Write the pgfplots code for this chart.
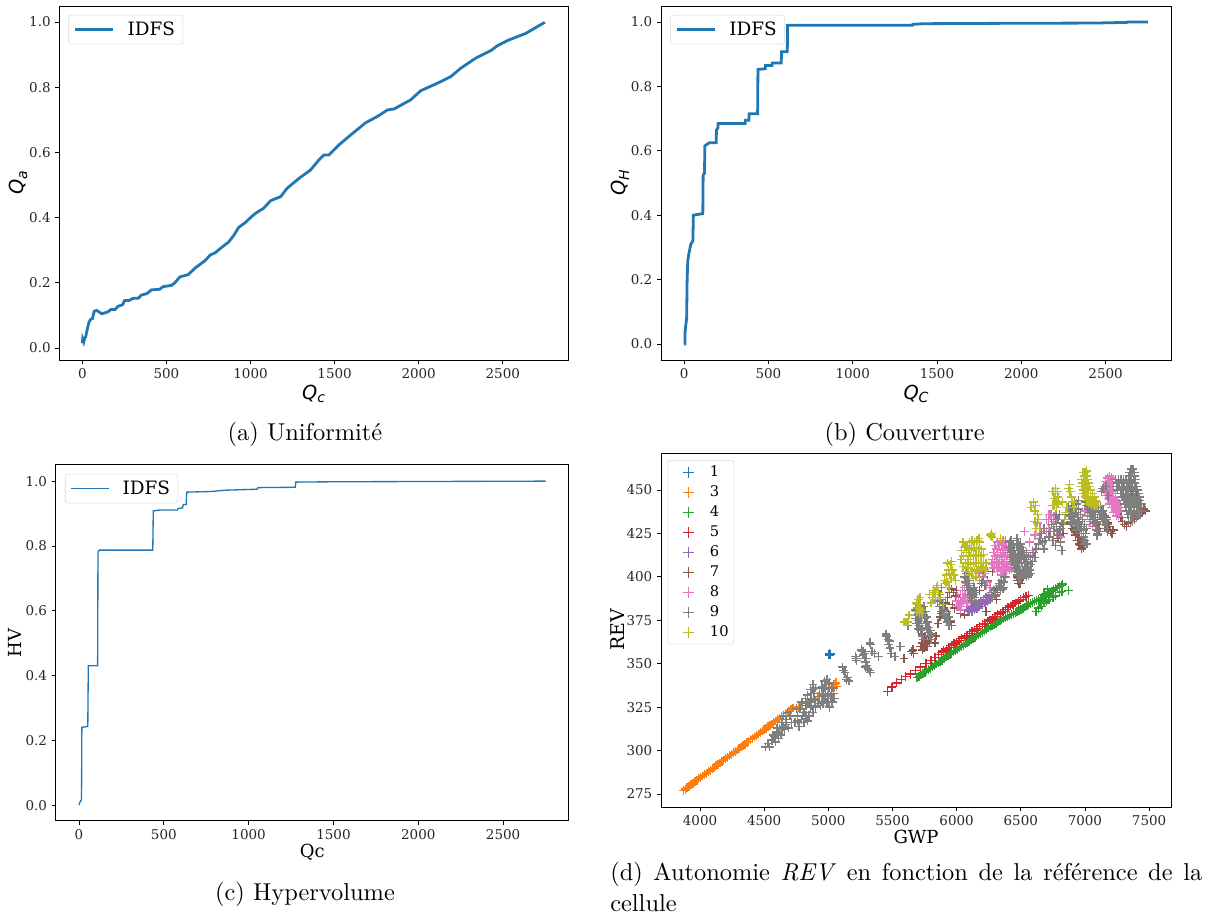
\documentclass[border=0pt]{standalone}
\usepackage{fontspec}
\usepackage{pgfplots}
\pgfplotsset{compat=1.18}
\newfontfamily\djs{DejaVu Serif}
\newfontfamily\djn{DejaVu Sans}
\newfontfamily\capf[Extension=.otf,Ligatures=TeX,ItalicFont=lmroman10-italic]{lmroman10-regular}
\definecolor{tb}{HTML}{1F77B4}
\definecolor{to}{HTML}{FF7F0E}
\definecolor{tg}{HTML}{2CA02C}
\definecolor{tr}{HTML}{D62728}
\definecolor{tp}{HTML}{9467BD}
\definecolor{tbr}{HTML}{8C564B}
\definecolor{tpk}{HTML}{E377C2}
\definecolor{tgy}{HTML}{7F7F7F}
\definecolor{tol}{HTML}{BCBD22}
\newcommand{\capfont}{\capf\fontsize{18.3}{24}\selectfont}
\newcommand{\Qlab}[1]{{\djn\itshape\fontsize{14.5}{14.5}\selectfont Q\raisebox{-0.35ex}{\fontsize{10.5}{10.5}\selectfont #1}}}
\pgfplotsset{
 base/.style={
  scale only axis, axis on top=false,
  anchor=south west,
  tick align=outside, tick pos=left,
  major tick length=3pt,
  axis line style={line width=0.7pt},
  tick style={line width=0.6pt,black},
  /pgf/number format/assume math mode=true,
  /pgf/number format/1000 sep={},
  ticklabel style={font=\djs\fontsize{10.1}{11}\selectfont,text=black!85},
  scaled ticks=false,
  clip=true,
 },
 xt/.style={xtick={0,500,1000,1500,2000,2500},xmin=-137,xmax=2888,
  xticklabel style={/pgf/number format/fixed}},
 yt/.style={ytick={0,0.2,0.4,0.6,0.8,1.0},
  yticklabel style={/pgf/number format/fixed,/pgf/number format/fixed zerofill,/pgf/number format/precision=1}},
 leg/.style={legend cell align=left,
  legend style={font=\djs\fontsize{13.8}{15}\selectfont,draw=black!15,rounded corners=2pt,
   inner xsep=4pt,inner ysep=3pt},
  legend image code/.code={\draw[##1] (0pt,0pt) -- (28pt,0pt); \path (36pt,0pt);}},
}
\begin{document}
\begin{tikzpicture}
\path[use as bounding box] (0,0) rectangle (909.75pt,688.5pt);
% ---- (a)
\begin{axis}[base,xt,yt,leg,at={(44.5pt,418.5pt)},width=381.5pt,height=265.5pt,
 ymin=-0.037,ymax=1.049,
 legend style={at={(0.018,0.975)},anchor=north west},
 xlabel={\Qlab{c}},ylabel={\Qlab{a}},
 xlabel style={yshift=2.5pt},ylabel style={yshift=-5.5pt}]
\addplot[tb,line width=2.1pt] coordinates {
(0,0.015)(2,0.027)(8,0.018)(14,0.03)(20,0.035)(30,0.06)(40,0.08)(50,0.088)(60,0.09)(70,0.112)(85,0.115)(100,0.11)(115,0.105)(130,0.107)(150,0.11)(170,0.118)(195,0.118)(210,0.127)(240,0.133)(250,0.145)(280,0.146)(300,0.152)(335,0.153)(350,0.162)(385,0.167)(410,0.178)(460,0.18)(480,0.188)(530,0.192)(550,0.2)(580,0.218)(630,0.225)(670,0.245)(730,0.268)(760,0.285)(790,0.292)(820,0.305)(870,0.325)(900,0.345)(930,0.37)(970,0.385)(1000,0.40)(1030,0.413)(1079,0.429)(1120,0.452)(1179,0.464)(1218,0.490)(1288,0.520)(1357,0.546)(1407,0.577)(1437,0.592)(1466,0.592)(1526,0.623)(1595,0.653)(1685,0.691)(1754,0.710)(1814,0.730)(1853,0.733)(1952,0.761)(2012,0.789)(2111,0.812)(2190,0.832)(2250,0.858)(2339,0.889)(2429,0.912)(2468,0.927)(2528,0.943)(2637,0.965)(2750,0.999)};
\addlegendentry{IDFS}
\end{axis}
% ---- (b)
\begin{axis}[base,xt,yt,leg,at={(495.75pt,418.5pt)},width=382.5pt,height=265.5pt,
 ymin=-0.05,ymax=1.05,
 legend style={at={(0.018,0.975)},anchor=north west},
 xlabel={\Qlab{C}},ylabel={\Qlab{H}},
 xlabel style={yshift=2.5pt},ylabel style={yshift=-5.5pt}]
\addplot[tb,line width=2.1pt] coordinates {
(0,0)(5,0)(6,0.04)(15,0.08)(18,0.2)(22,0.26)(30,0.285)(40,0.31)(52,0.32)(55,0.40)(111,0.405)(113,0.525)(121,0.53)(123,0.615)(135,0.62)(150,0.625)(190,0.625)(192,0.665)(200,0.67)(202,0.685)(362,0.685)(364,0.695)(384,0.695)(386,0.715)(436,0.715)(438,0.853)(481,0.855)(483,0.865)(521,0.865)(523,0.873)(576,0.873)(578,0.908)(612,0.908)(614,0.99)(1355,0.99)(1357,0.993)(1422,0.995)(1830,0.996)(2433,0.997)(2626,0.999)(2628,1.0)(2750,1.0)};
\addlegendentry{IDFS}
\end{axis}
% ---- (c)
\begin{axis}[base,xt,yt,leg,at={(41.8pt,73pt)},width=384.9pt,height=266.8pt,
 ymin=-0.048,ymax=1.05,
 legend style={at={(0.018,0.975)},anchor=north west},
 xlabel={{\djs\fontsize{13.5}{14}\selectfont Qc}},ylabel={{\djs\fontsize{13.5}{14}\selectfont HV}},
 xlabel style={yshift=3.5pt},ylabel style={yshift=-3.5pt}]
\addplot[tb,line width=1pt] coordinates {
(0,0)(8,0.012)(15,0.017)(17,0.24)(52,0.243)(55,0.43)(110,0.43)(112,0.78)(120,0.787)(435,0.787)(438,0.908)(480,0.911)(580,0.911)(585,0.916)(610,0.917)(615,0.928)(632,0.928)(635,0.966)(780,0.968)(860,0.972)(1050,0.975)(1055,0.98)(1275,0.981)(1278,0.997)(1500,0.998)(2750,1.0)};
\addlegendentry{IDFS}
\end{axis}
% ---- (d)
\begin{axis}[base,at={(495.75pt,83.25pt)},width=382.5pt,height=265.5pt,
 xmin=3696,xmax=7671,ymin=267.5,ymax=471.3,
 xtick={4000,4500,5000,5500,6000,6500,7000,7500},
 ytick={275,300,325,350,375,400,425,450},
 xlabel={{\djs\fontsize{13.5}{14}\selectfont GWP}},ylabel={{\djs\fontsize{14.2}{14}\selectfont REV}},
 xlabel style={yshift=3.5pt},ylabel style={yshift=-5pt},
 legend cell align=left,
 legend style={at={(0.013,0.98)},anchor=north west,font=\djs\fontsize{11}{12}\selectfont,
  draw=black!15,rounded corners=2pt,row sep=1.4pt,inner xsep=2pt,inner ysep=2pt},
 legend image code/.code={\draw[#1] plot coordinates {(13.2pt,0pt)}; \path (0pt,0pt) (27pt,0pt);},
 every axis plot/.append style={only marks,mark=+,mark size=3.3pt,line width=1.05pt},
 legend image post style={mark size=4.2pt,line width=0.55pt}]
\addplot[tb] coordinates {(5005,355.5)(5012,355.5)(5010,356)(5008,355)(5015,355.5)};
\addlegendentry{1}
\addplot[to] coordinates {
(3870,277.0)(3885,277.8)(3900,278.7)(3915,279.5)(3930,280.3)(3945,281.2)(3960,282.0)(3975,282.8)(3990,283.7)(4005,284.5)(4020,285.3)(4035,286.2)(4050,287.0)(4065,287.8)(4080,288.7)(4095,289.5)(4110,290.3)(4125,291.2)(4140,292.0)(4155,292.8)(4170,293.7)(4185,294.5)(4200,295.3)(4215,296.2)(4230,297.0)(4245,297.8)(4260,298.7)(4275,299.5)(4290,300.3)(4305,301.2)(4320,302.0)(4335,302.8)(4350,303.7)(4365,304.5)(4380,305.3)(4395,306.2)(4410,307.0)(4425,307.8)(4440,308.7)(4455,309.5)(4470,310.3)(4485,311.2)(4500,312.0)(4515,312.8)(4530,313.7)(4545,314.5)(4560,315.3)(4575,316.2)(4590,317.0)(4605,317.8)(4620,318.7)(4635,319.5)(4650,320.3)(4665,321.2)(4680,322.0)(4695,322.8)(4710,323.7)(4725,324.5)(4770,325)(4800,327)(4830,328)(4920,331)(4930,333)(4945,332)(5030,337)(5040,338)(5050,338)(5060,339)(5065,337)(5045,336)};
\addlegendentry{3}
\addplot[tg] coordinates {
(5692,342)(5707,342.8)(5722,343.5)(5737,344.3)(5752,345)(5767,345.8)(5782,346.6)(5797,347.4)(5812,348.2)(5827,349)(5842,349.8)(5857,350.5)(5872,351.2)(5887,352)(5902,353)(5917,353.8)(5932,354.5)(5947,355.3)(5962,356)(5977,356.8)(5992,357.6)(6007,358.4)(6022,359.2)(6037,360)(6052,360.7)(6067,361.4)(6082,362.1)(6097,362.9)(6112,363.6)(6127,364.4)(6142,365.2)(6157,366)(6172,366.7)(6187,367.4)(6202,368.1)(6217,368.9)(6232,369.7)(6247,370.5)(6262,371.2)(6277,371.9)(6292,372.6)(6307,373.3)(6322,374)(6337,374.6)(6352,375.2)(6367,375.8)(6382,376.4)(6397,377)(6412,377.6)(6427,378.2)(6442,378.8)(6457,379.4)(6472,380)(6487,380.6)(6502,381.2)(6517,381.9)(6532,382.6)(6547,383.3)(6562,384)(6577,384.6)(6592,385.2)(6607,385.8)(6622,386.4)(6637,387)(6652,387.6)(6667,388.2)(6682,388.8)(6697,389.4)(6712,390.2)(6727,391)(6742,391.8)(6757,392.5)(6772,393.2)(6787,394)(6802,394.7)(6817,395.3)(6825,395.8)(6640,382)(6660,383)(6680,385)(6700,386)(6720,387)(6750,388)(6770,389)(6800,391)(6820,391.5)(6870,392.3)(6620,380)(6650,386)(6680,390)(6710,393)};
\addlegendentry{4}
\addplot[tr] coordinates {
(5460,334)(5495,336.5)(5530,339)(5570,341)(5600,342.5)(5640,344)(5680,346)(5720,348)(5760,350)(5800,352)(5830,353.7)(5860,355.4)(5880,356.4)(5900,357.4)(5920,358.4)(5940,359.4)(5960,360.4)(5980,361.4)(6000,362.4)(6020,363.4)(6040,364.4)(6060,365.4)(6080,366.4)(6100,367.4)(6120,368.4)(6140,369.4)(6160,370.4)(6180,371.4)(6200,372.4)(6220,373.3)(6240,374.2)(6260,375.2)(6280,376.2)(6300,377.2)(6320,378.2)(6340,379.2)(6360,380.2)(6380,381.2)(6400,382.2)(6420,383.2)(6440,384.1)(6460,385)(6480,386)(6500,387)(6520,388)(6540,388.8)(6560,389.4)};
\addlegendentry{5}
\addplot[tp] coordinates {
(6090,381)(6110,382)(6130,383)(6150,384)(6170,385)(6190,386)(6210,387)(6230,388)(6250,389)(6270,390)(6290,392)(6310,393)(6330,395)(6120,380)(6160,382)(6200,384)(6240,386)(6100,380)(6140,381)(6180,383)(6220,385)(6260,387)(6300,389)};
\addlegendentry{6}
\addplot[tbr] coordinates {
(5590,353)(5660,358)(5665,356)(5650,357)(5720,360)(5730,362)(5740,364)(5750,361)(5760,363)(5770,360)(5780,365)(5730,367)(5790,362)(5745,359)(5755,366)(5735,358)(5830,362)(5840,366)(5855,373)(5870,377)(5885,379)(5900,382)(5920,380)(5940,377)(5950,374)(5960,372)(5915,385)(5930,388)(5945,391)(5960,393)(5975,391)(5990,389)(6000,392)(5970,384)(5985,382)(6030,379)(6060,378)(6180,392)(6195,396)(6210,400)(6240,398)(6280,403)(6300,391)(6310,387)(6230,380)(6470,400)(6490,398)(6500,396)(6520,401)(6540,403)(6480,403)(6510,399)(6495,401)(6485,396)(6475,398)
(6790,422)(6830,425)(6890,431)(6900,428)(6930,429)(6940,427)(6950,425)(6960,423)(6970,420)(6980,418)(6990,417)(6945,421)(6955,419)(6975,416)(6925,424)(6935,426)(6915,427)(6905,430)(6965,418)(7170,434)(7180,431)(7190,429)(7200,426)(7210,425)(7220,427)(7160,430)(7100,433)(7110,428)(7180,427)(7265,440)(7270,438)(7280,434)(7295,432)(7310,430)(7325,429)(7340,431)(7355,432)(7370,432)(7385,433)(7400,434)(7415,435)(7430,437)(7445,437)(7460,439)(7470,438)(7400,448)(7360,449)};
\addlegendentry{7}
\addplot[tpk] coordinates {
(6000,386)(6015,388)(6030,390)(6045,392)(6060,394)(6020,384)(6035,386)(6050,388)(6065,390)(6080,385)(6090,389)(6075,396)(6040,383)(6055,385)(6070,387)(6010,383)(6030,381)(6085,392)(6180,398)(6200,400)(6220,402)(6240,397)(6260,394)(6190,405)(6210,403)(6170,402)(6230,395)
(6300,418)(6320,420)(6340,421)(6360,421)(6380,421)(6290,414)(6310,416)(6330,418)(6350,418)(6370,418)(6390,418)(6280,410)(6300,412)(6320,413)(6340,414)(6360,415)(6380,415)(6400,416)(6275,407)(6295,408)(6315,409)(6335,410)(6355,411)(6375,412)(6395,412)(6415,413)(6290,405)(6310,406)(6330,407)(6350,408)(6370,408)(6390,409)(6410,410)(6430,411)(6320,403)(6340,404)(6360,405)(6380,405)(6400,406)(6420,407)(6350,401)(6370,402)(6390,403)(6410,404)(6430,405)(6380,400)
(6530,426)(6570,420)(6590,415)(6610,424)(6630,431)(6650,428)(6700,433)(6720,436)(6740,433)(6760,435)(6780,431)(6720,428)(6700,426)(6780,426)(6810,423)(7020,435)(7040,432)(7060,429)(7050,437)(7000,438)(6900,433)(6715,433)(6735,436)(6755,432)(6770,436)
(7160,455)(7175,457)(7190,458)(7205,457)(7150,452)(7165,453)(7180,455)(7195,455)(7210,455)(7150,450)(7165,450)(7180,451)(7195,452)(7210,452)(7225,452)(7165,447)(7180,448)(7195,449)(7210,449)(7225,449)(7240,448)(7180,445)(7195,445)(7210,446)(7225,446)(7240,446)(7190,442)(7205,442)(7220,443)(7235,443)(7250,443)(7265,442)(7205,440)(7220,440)(7235,440)(7250,440)(7265,440)(7280,440)(7225,437)(7240,437)(7255,437)(7270,438)(7245,435)(7260,435)};
\addlegendentry{8}
\addplot[tgy] coordinates {
(4510,302)(4530,304)(4560,306)(4580,308)(4600,310)(4620,313)(4640,316)(4650,314)(4670,318)(4690,313)(4700,320)(4610,307)(4590,305)(4680,322)(4660,312)(4630,309)(4570,309)(4540,302)(4610,311)(4650,320)(4670,315)(4640,312)(4600,313)(4715,316)
(4740,316)(4760,320)(4780,324)(4800,328)(4820,330)(4840,332)(4860,335)(4880,338)(4770,314)(4790,318)(4810,322)(4830,326)(4850,328)(4870,330)(4890,333)(4900,325)(4850,320)(4880,322)(4920,327)(4860,325)(4840,317)(4810,316)(4880,335)(4750,324)(4790,328)(4820,326)(4840,327)(4865,333)(4870,326)(4895,329)(4760,317)(4800,320)(4825,320)(4885,330)(4900,336)
(4950,337)(4970,340)(4990,341)(5010,339)(5030,336)(4960,332)(4980,335)(5000,333)(5020,330)(5040,333)(5050,330)(4990,328)(5010,325)(4950,328)(4930,331)(4940,326)(5030,328)(4965,336)(4985,338)(5005,336)(5025,333)(4975,330)(4995,332)(5015,331)(5035,330)(5000,328)(4960,327)
(5110,348)(5130,345)(5150,342)(5160,340)(5140,341)(5120,346)(5210,354)(5220,352)(5215,353)(5260,358)(5270,355)(5280,353)(5290,351)(5300,349)(5310,347)(5320,346)(5330,345)(5265,357)(5290,348)(5275,357)(5285,356)(5295,353)(5330,361)(5340,357)(5360,356)(5390,354)(5325,362)(5450,367)(5465,364)(5470,361)(5480,359)(5490,356)(5455,366)(5475,363)(5520,354)(5560,360)(5620,372)
(5680,381)(5690,378)(5700,375)(5710,372)(5720,369)(5730,366)(5740,364)(5695,382)(5705,379)(5715,376)(5725,373)(5735,370)(5680,376)(5690,373)(5700,370)
(5730,381)(5740,378)(5750,376)(5760,373)(5770,371)(5780,368)(5790,366)(5800,364)(5745,383)(5755,380)(5765,377)(5775,374)(5785,371)(5795,369)(5805,367)
(5850,386)(5865,383)(5880,380)(5895,378)(5910,376)(5925,374)(5940,372)(5870,390)(5880,394)(5875,387)(5890,384)(5905,381)(5920,379)(5935,377)(5950,375)
(6060,400)(6070,397)(6080,395)(6090,392)(6100,390)(6110,388)(6120,386)(6090,398)(6100,396)(6110,393)(6130,390)(6140,388)(6150,385)(6075,402)(6085,399)(6095,395)(6105,392)(6120,391)(6135,394)(6150,391)
(6250,388)(6270,391)(6290,392)(6310,394)(6330,396)(6350,398)(6370,397)(6360,393)(6340,392)(6220,395)(6200,398)(6180,402)(6210,405)(6280,388)(6300,390)(6320,392)(6345,396)(6365,394)(6375,400)
(6410,420)(6420,417)(6430,415)(6440,413)(6450,410)(6460,408)(6470,406)(6480,403)(6490,401)(6500,399)(6425,421)(6440,418)(6450,415)(6460,413)(6470,411)(6480,408)(6490,406)(6500,404)(6510,402)(6405,417)(6415,414)(6425,411)(6435,409)(6445,407)(6455,405)(6465,403)(6475,401)(6485,399)
(6470,422)(6480,419)(6490,417)(6500,415)(6510,412)(6520,410)(6530,408)(6540,405)(6550,403)(6560,401)(6485,418)(6500,419)(6510,417)(6520,415)(6530,413)(6540,410)(6550,408)(6560,406)(6570,404)(6580,402)(6575,411)(6590,409)(6465,418)(6475,415)(6485,413)(6495,411)(6505,408)(6515,406)(6525,404)(6535,402)(6545,400)(6580,407)(6545,414)(6560,412)
(6640,419)(6660,425)(6680,428)(6650,422)(6690,421)(6620,416)(6610,411)(6600,414)(6720,423)(6740,430)(6760,426)(6780,429)(6800,427)(6750,421)(6770,418)(6790,424)(6820,431)(6840,433)(6810,420)(6820,415)(6730,426)(6770,433)(6790,433)(6810,428)(6830,430)(6800,436)(6780,436)(6850,436)(6870,437)(6670,420)(6680,416)
(6870,440)(6884,438)(6900,435)(6915,433)(6930,431)(6945,429)(6960,427)(6975,425)(6990,423)(7001,421)(6900,441)(6915,439)(6930,437)(6945,434)(6960,432)(6975,429)(6990,427)(7005,425)(7015,419)(6890,432)(6920,443)(6950,444)(6875,435)(6890,436)(6905,431)(6920,429)(6935,427)(6950,431)(6965,429)(6985,421)(6995,419)(6935,442)(6950,439)(6965,436)(6980,433)(6995,430)(7010,428)
(7000,443)(7012,441)(7024,439)(7036,437)(7048,435)(7060,433)(7072,431)(7084,429)(7094,427)(7020,445)(7036,442)(7050,440)(7065,437)(7080,434)(7096,432)(7010,446)(7028,443)(7042,440)(7056,437)(7072,434)(7088,431)
(7094,440)(7106,438)(7118,436)(7130,434)(7142,432)(7154,430)(7166,428)(7178,426)(7120,441)(7140,438)(7155,435)(7170,433)(7100,425)(7095,424)(7105,426)(7180,447)(7165,452)(7140,451)(7130,449)(7108,441)(7125,438)(7148,435)(7162,432)(7176,430)
(7360,462)(7375,462)(7350,460)(7370,460)(7385,460)(7345,458)(7365,458)(7385,458)
(7240,456)(7260,456)(7280,456)(7300,456)(7320,456)(7340,456)(7360,456)(7380,456)(7395,456)
(7250,454)(7270,454)(7290,454)(7310,454)(7330,454)(7350,454)(7370,454)(7390,454)
(7245,452)(7265,452)(7285,452)(7305,452)(7325,452)(7345,452)(7365,452)(7385,452)(7400,452)
(7255,450)(7275,450)(7295,450)(7315,450)(7335,450)(7355,450)(7375,450)(7395,450)(7410,450)
(7280,448)(7300,448)(7320,448)(7340,448)(7380,448)(7415,448)
(7290,446)(7310,446)(7330,446)(7350,446)(7370,446)(7390,446)(7410,446)(7425,446)
(7300,444)(7320,444)(7340,444)(7360,444)(7380,444)(7400,444)(7420,444)(7430,444)
(7310,442)(7330,442)(7350,442)(7370,442)(7390,442)(7410,442)(7430,442)(7440,442)
(7320,440)(7340,440)(7360,440)(7380,440)(7400,440)(7420,440)(7440,440)
(7325,438)(7345,438)(7365,438)(7385,438)(7405,438)(7425,438)(7440,438)
(7335,436)(7355,436)(7375,436)(7395,436)(7415,436)(7430,436)
(7340,434)(7360,434)(7380,434)(7400,434)(7340,432)(7370,432)};
\addlegendentry{9}
\addplot[tol] coordinates {
(5590,374)(5605,374)(5620,374)(5630,378)(5690,380)(5700,382)(5710,384)(5720,381)(5730,379)(5685,385)(5700,387)(5715,388)(5695,384)(5710,379)(5800,385)(5815,388)(5830,391)(5845,394)(5860,391)(5875,388)(5790,390)(5820,392)(5810,390)(5835,387)(5905,398)(5920,401)(5935,404)(5950,407)(5965,404)(5980,401)(5925,397)(5940,394)(5990,398)(5955,399)(5900,384)(5850,395)(5930,408)(5945,402)(5960,409)(5915,396)
(6040,415)(6060,417)(6080,418)(6100,420)(6120,421)(6140,420)(6160,421)(6180,420)(6035,410)(6055,412)(6075,414)(6095,415)(6115,416)(6135,417)(6155,417)(6175,416)(6195,416)(6050,406)(6070,408)(6090,410)(6110,412)(6130,412)(6150,413)(6170,412)(6190,412)(6210,413)(6070,403)(6090,405)(6110,407)(6130,408)(6150,408)(6170,408)(6190,408)(6210,408)(6100,401)(6120,403)(6140,404)(6160,404)(6180,404)(6200,405)(6130,399)(6150,400)(6175,422)(6220,404)(6230,408)(6070,418)(6050,420)
(6270,425)(6275,423)(6265,424)(6340,422)(6580,440)(6600,443)(6615,441)(6610,438)(6630,436)(6640,433)(6620,428)(6610,432)(6750,449)(6770,448)(6785,449)(6760,445)(6775,444)(6790,446)(6765,441)(6780,440)(6750,441)(6875,451)(6880,453)(6885,449)(6895,446)(6905,443)(6915,440)(6825,443)(6850,437)(6840,433)(6860,440)(6770,451)(6790,442)
(6985,460)(7000,460)(7010,461)(6975,456)(6990,456)(7005,456)(7020,456)(6975,452)(6990,452)(7005,452)(7020,452)(7035,452)(6985,448)(7000,448)(7015,448)(7030,448)(7045,448)(7060,448)(7010,444)(7025,444)(7040,444)(7055,444)(7070,444)(7085,444)(7050,441)(7065,441)(7080,441)(7095,441)(6995,458)(7015,458)(6980,454)(6995,454)(7010,454)(7025,454)(6985,450)(7000,450)(7015,450)(7030,450)(7045,450)(7000,446)(7015,446)(7030,446)(7045,446)(7060,446)(7075,446)(7030,442)(7045,442)(7060,443)(7075,442)(7090,443)};
\addlegendentry{10}
\end{axis}
% ---- captions
\node[font=\capfont] at (228.75pt,363pt) {(a) Uniformité};
\node[font=\capfont] at (678.5pt,363pt) {(b) Couverture};
\node[font=\capfont] at (228.75pt,18pt) {(c) Hypervolume};
\node[font=\capfont,anchor=north west,inner sep=0pt] at (457.5pt,42pt) {\hbox to 444pt{(d) Autonomie \textit{REV} en fonction de la référence de la}};
\node[font=\capfont,anchor=north west,inner sep=0pt] at (457.5pt,18pt) {cellule};
\end{tikzpicture}
\end{document}
